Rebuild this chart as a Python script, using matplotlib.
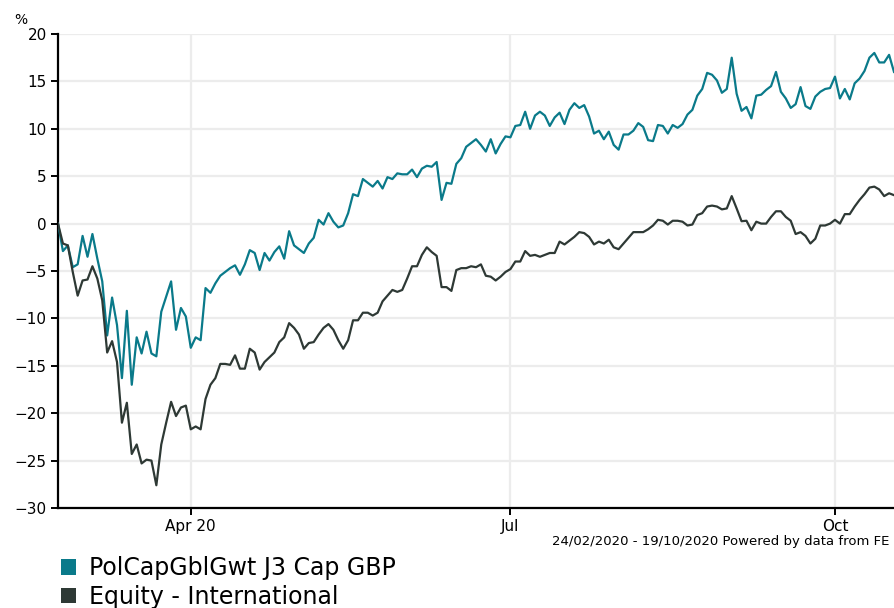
import numpy as np
import pandas as pd
import matplotlib
matplotlib.use('Agg')
import matplotlib.pyplot as plt
from matplotlib.patches import Patch

dates = pd.bdate_range('2020-02-24', '2020-10-19')

fund = [0.0, -2.9, -2.3, -4.6, -4.3, -1.3, -3.5, -1.1, -3.7, -6.1,
        -11.8, -7.8, -10.7, -16.3, -9.2, -17.0, -12.0, -13.7, -11.4, -13.7,
        -14.0, -9.3, -7.7, -6.1, -11.2, -8.9, -9.8, -13.1, -12.0, -12.3,
        -6.8, -7.3, -6.3, -5.5, -5.1, -4.7, -4.4, -5.4, -4.3, -2.8,
        -3.1, -4.9, -3.1, -3.9, -3.0, -2.4, -3.7, -0.8, -2.3, -2.7,
        -3.1, -2.1, -1.5, 0.4, -0.1, 1.1, 0.2, -0.4, -0.2, 1.1,
        3.1, 2.9, 4.7, 4.3, 3.9, 4.5, 3.7, 4.9, 4.7, 5.3,
        5.2, 5.2, 5.7, 4.9, 5.8, 6.1, 6.0, 6.5, 2.5, 4.3,
        4.2, 6.3, 6.9, 8.1, 8.5, 8.9, 8.3, 7.6, 8.9, 7.4,
        8.4, 9.2, 9.1, 10.3, 10.4, 11.8, 10.0, 11.4, 11.8, 11.4,
        10.3, 11.2, 11.7, 10.5, 12.0, 12.7, 12.2, 12.5, 11.3, 9.5,
        9.8, 8.9, 9.7, 8.3, 7.8, 9.4, 9.4, 9.8, 10.6, 10.2,
        8.8, 8.7, 10.4, 10.3, 9.5, 10.4, 10.1, 10.5, 11.5, 12.0,
        13.5, 14.2, 15.9, 15.7, 15.1, 13.8, 14.2, 17.5, 13.7, 11.9,
        12.3, 11.1, 13.5, 13.6, 14.1, 14.5, 16.0, 13.9, 13.2, 12.2,
        12.6, 14.4, 12.4, 12.1, 13.4, 13.9, 14.2, 14.3, 15.5, 13.2,
        14.2, 13.1, 14.8, 15.3, 16.1, 17.5, 18.0, 17.0, 17.0, 17.8,
        16.0]

sector = [0.0, -2.1, -2.3, -5.1, -7.6, -6.0, -5.9, -4.5, -5.8, -8.1,
          -13.6, -12.4, -14.6, -21.0, -18.9, -24.3, -23.3, -25.3, -24.9, -25.0,
          -27.6, -23.3, -21.0, -18.8, -20.3, -19.4, -19.2, -21.7, -21.4, -21.7,
          -18.5, -17.0, -16.3, -14.8, -14.8, -14.9, -13.9, -15.3, -15.3, -13.2,
          -13.6, -15.4, -14.6, -14.1, -13.6, -12.5, -12.0, -10.5, -11.0, -11.7,
          -13.2, -12.6, -12.5, -11.7, -11.0, -10.6, -11.2, -12.3, -13.2, -12.3,
          -10.2, -10.2, -9.4, -9.4, -9.7, -9.4, -8.2, -7.6, -7.0, -7.2,
          -7.0, -5.8, -4.5, -4.5, -3.3, -2.5, -3.0, -3.4, -6.7, -6.7,
          -7.1, -4.9, -4.7, -4.7, -4.5, -4.6, -4.3, -5.5, -5.6, -6.0,
          -5.6, -5.1, -4.8, -4.0, -4.0, -2.9, -3.4, -3.3, -3.5, -3.3,
          -3.1, -3.1, -1.9, -2.2, -1.8, -1.4, -0.9, -1.0, -1.4, -2.2,
          -1.9, -2.1, -1.7, -2.5, -2.7, -2.1, -1.5, -0.9, -0.9, -0.9,
          -0.6, -0.2, 0.4, 0.3, -0.1, 0.3, 0.3, 0.2, -0.2, -0.1,
          0.9, 1.1, 1.8, 1.9, 1.8, 1.5, 1.6, 2.9, 1.6, 0.25,
          0.3, -0.7, 0.2, 0.0, 0.0, 0.7, 1.3, 1.3, 0.7, 0.3,
          -1.1, -0.9, -1.3, -2.1, -1.6, -0.2, -0.2, 0.0, 0.4, 0.0,
          1.0, 1.0, 1.8, 2.5, 3.1, 3.8, 3.9, 3.6, 2.9, 3.2,
          3.0]

names = ['PolCapGblGwt J3 Cap GBP', 'Equity - International']
colours = ['#0a7a8a', '#2e3935']
tick_months = ['2020-04-01', '2020-07-01', '2020-10-01']
tick_labels = ['Apr 20', 'Jul', 'Oct']

x = np.arange(len(dates))
tick_pos = [int(np.searchsorted(dates, pd.Timestamp(d))) for d in tick_months]

fig = plt.figure(figsize=(8.94, 6.08), dpi=100)
ax = fig.add_axes([58/894, 1-508/608, 1-58/894, (508-34)/608])

ax.plot(x, fund, color=colours[0], lw=1.6, zorder=3)
ax.plot(x, sector, color=colours[1], lw=1.6, zorder=3)

ax.set_xlim(0, len(dates)-1)
ax.set_ylim(-30, 20)
ax.set_yticks(range(-30, 21, 5))
ax.set_xticks(tick_pos)
ax.set_xticklabels(tick_labels)
ax.grid(True, color='#ececec', lw=1.6, zorder=0)
ax.set_axisbelow(True)

for s in ['top', 'right']:
    ax.spines[s].set_visible(False)
for s in ['left', 'bottom']:
    ax.spines[s].set_linewidth(1.6)
    ax.spines[s].set_color('black')
ax.tick_params(axis='both', length=5, width=1.4, labelsize=11, color='black')
ax.tick_params(axis='y', pad=3)
ax.tick_params(axis='x', pad=3)

fig.text(14/894, 1-20/608, '%', fontsize=10, va='center', ha='left')
fig.text(889/894, 1-541/608, '24/02/2020 - 19/10/2020 Powered by data from FE',
         fontsize=9.5, ha='right', va='center')

handles = [Patch(facecolor=c, edgecolor='none') for c in colours]
fig.legend(handles, names, loc='upper left', bbox_to_anchor=(61/894, 1-556/608),
           frameon=False, fontsize=17, handlelength=0.65, handleheight=0.65,
           handletextpad=0.55, labelspacing=0.2, borderpad=0, borderaxespad=0)

fig.savefig('out.png', dpi=100)
